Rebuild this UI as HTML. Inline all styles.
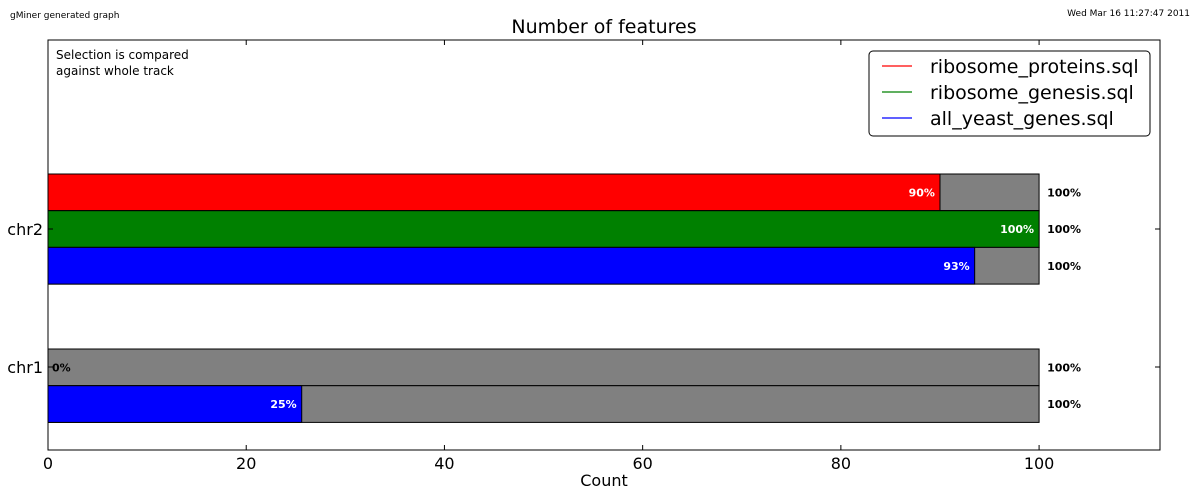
<!DOCTYPE html>
<html><head><meta charset="utf-8"><style>
body{margin:0;background:#fff;}
svg{display:block;font-family:"DejaVu Sans","Liberation Sans",sans-serif;}
</style></head><body>
<svg id="chart" width="1200" height="500"></svg>
<script>
const categories = ["chr1", "chr2"];
const seriesNames = ["ribosome_proteins.sql", "ribosome_genesis.sql", "all_yeast_genes.sql"];
const seriesColors = ["#ff0000", "#008000", "#0000ff"];
// values per category: [red, green, blue]; null = series absent
const chr2Values = [90, 100, 93.5];
const chr2Labels = ["90%", "100%", "93%"];
const chr1Values = [0, null, 25.6];
const chr1Labels = ["0%", null, "25%"];
const totalValue = 100;
const xTicks = [0, 20, 40, 60, 80, 100];

const svg = document.getElementById('chart');
const NS = 'http://www.w3.org/2000/svg';
function el(tag, attrs, parent){const e=document.createElementNS(NS,tag);for(const k in attrs)e.setAttribute(k,attrs[k]);(parent||svg).appendChild(e);return e;}
const L=48,R=1160,T=40,B=450,XMAX=112.2;
const x=v=>L+(R-L)*v/XMAX;

let t=el('text',{x:10,y:18,'font-size':9,fill:'#000'});t.textContent='gMiner generated graph';


t=el('text',{x:1190,y:16,'font-size':9,'text-anchor':'end'});t.textContent='Wed Mar 16 11:27:47 2011';


t=el('text',{x:604,y:33,'font-size':19,'text-anchor':'middle'});t.textContent='Number of features';



const barH=36.7;
function drawRow(y0,val,label,color,name){
  const g=el('g',{});
  
  
  el('rect',{x:x(0),y:y0,width:x(totalValue)-x(0),height:barH,fill:'#808080',stroke:'#000','stroke-width':1},g);
  if(val>0) el('rect',{x:x(0),y:y0,width:x(val)-x(0),height:barH,fill:color,stroke:'#000','stroke-width':1},g);
  const lt=el('text',{x:val>5?x(val)-5:x(0)+4,y:y0+barH/2+4,'font-size':11,'font-weight':'bold','text-anchor':val>5?'end':'start',fill:val>5?'#fff':'#000'},g);
  lt.textContent=label;
  const rt=el('text',{x:x(totalValue)+8,y:y0+barH/2+4,'font-size':11,'font-weight':'bold'},g);
  rt.textContent='100%';
}
const rows=[{cat:'chr2',vals:chr2Values,labs:chr2Labels,top:174},{cat:'chr1',vals:chr1Values,labs:chr1Labels,top:349}];
rows.forEach(r=>{
  let y=r.top;
  r.vals.forEach((v,i)=>{ if(v===null) return; drawRow(y,v,r.labs[i],seriesColors[i],'bar-'+r.cat+'-'+i); y+=barH; });
});

el('rect',{x:L,y:T,width:R-L,height:B-T,fill:'none',stroke:'#000','stroke-width':1});
const catY={chr2:229,chr1:367};
categories.forEach(c=>{
  el('line',{x1:L,x2:L+5,y1:catY[c],y2:catY[c],stroke:'#000'});
  el('line',{x1:R,x2:R-5,y1:catY[c],y2:catY[c],stroke:'#000'});
  const tt=el('text',{x:L-5,y:catY[c]+6,'font-size':16,'text-anchor':'end'});tt.textContent=c;
  
  
});
xTicks.forEach(v=>{
  el('line',{x1:x(v),x2:x(v),y1:B,y2:B-5,stroke:'#000'});
  el('line',{x1:x(v),x2:x(v),y1:T,y2:T+5,stroke:'#000'});
  const tt=el('text',{x:x(v),y:B+19,'font-size':16,'text-anchor':'middle'});tt.textContent=v;
  
  
});
t=el('text',{x:604,y:486,'font-size':16,'text-anchor':'middle'});t.textContent='Count';


t=el('text',{x:56,y:59,'font-size':12});t.textContent='Selection is compared';


t=el('text',{x:56,y:75,'font-size':12});t.textContent='against whole track';



const lg=el('g',{});


el('rect',{x:869,y:51,width:281,height:85,rx:4,fill:'#fff',stroke:'#000'},lg);
seriesNames.forEach((n,i)=>{
  const yy=66+i*26;
  el('line',{x1:882,x2:912,y1:yy,y2:yy,stroke:seriesColors[i],'stroke-width':1.2},lg);
  const lt=el('text',{x:930,y:yy+7,'font-size':19},lg);lt.textContent=n;
  
  
});
</script>
</body></html>
